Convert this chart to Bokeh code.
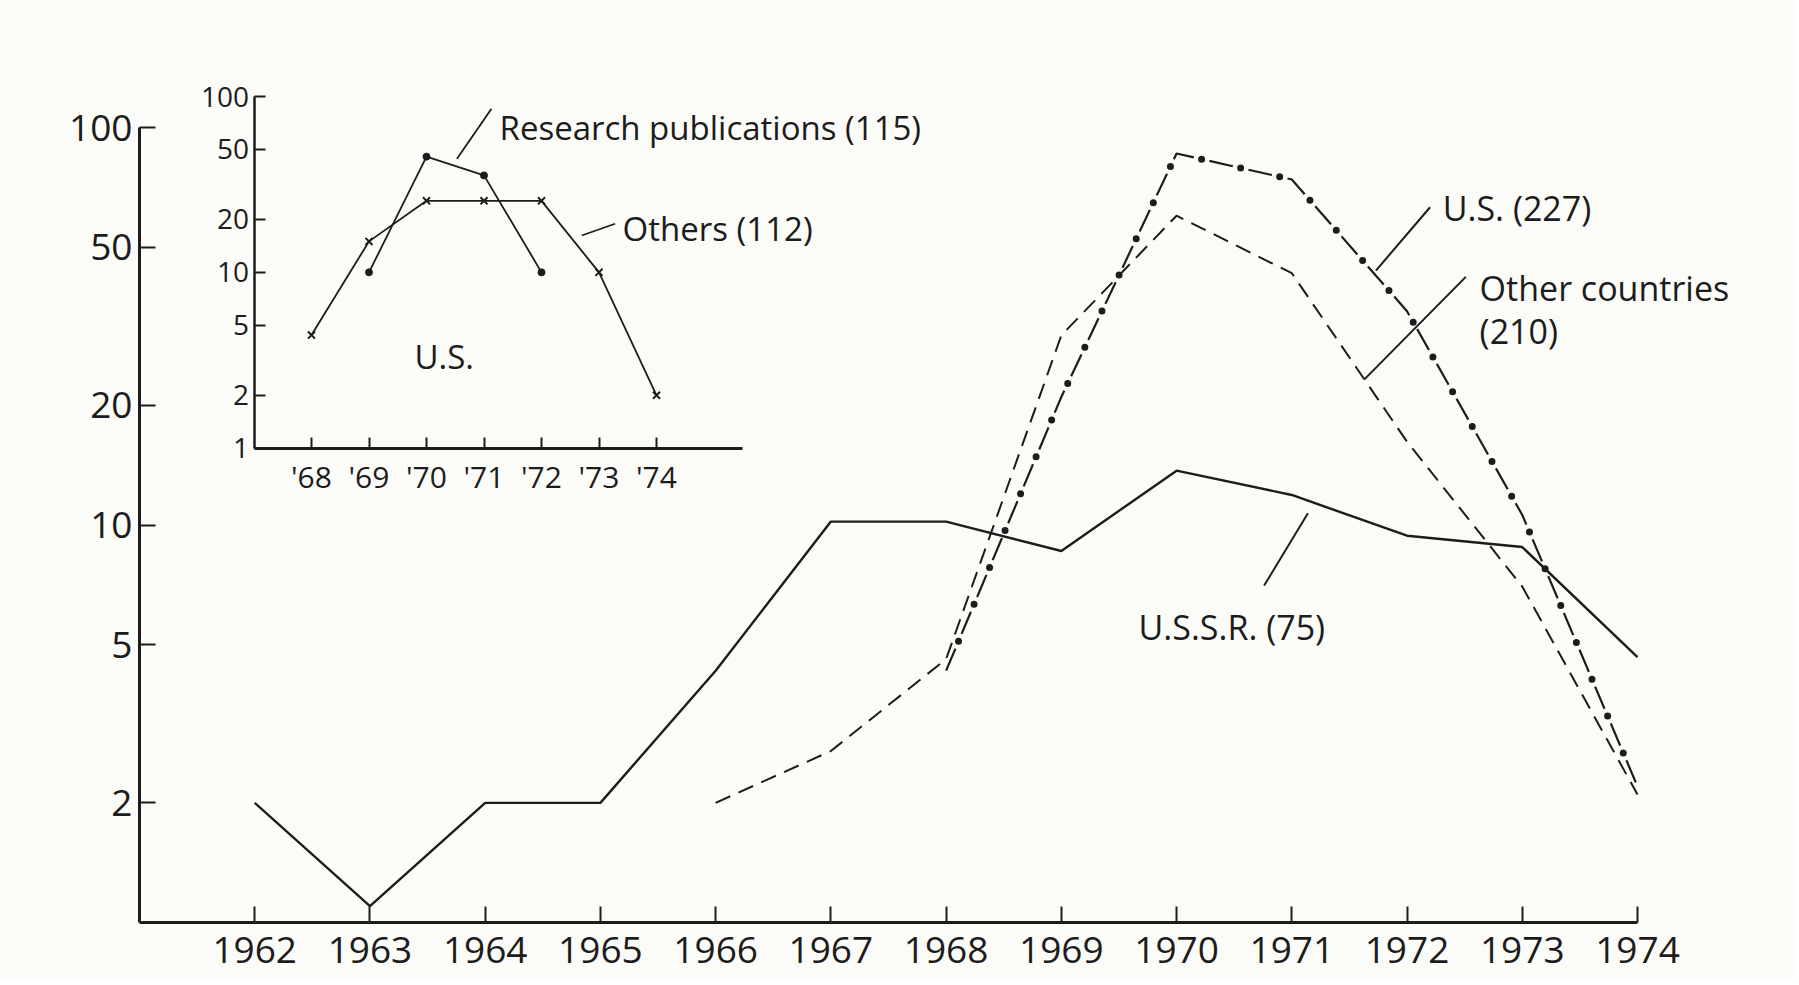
import math
from bokeh.plotting import figure
from bokeh.models import (Range1d, LogScale, LinearScale, LogAxis, LinearAxis,
                          FixedTicker, NumeralTickFormatter, Label)
from bokeh.embed import file_html
from bokeh.resources import INLINE

# ---------------- data ----------------
years = [1962, 1963, 1964, 1965, 1966, 1967, 1968, 1969, 1970, 1971, 1972, 1973, 1974]
ussr = [2.0, 1.1, 2.0, 2.0, 4.3, 10.2, 10.2, 8.6, 13.7, 11.9, 9.4, 8.8, 4.65]

us_years = [1968, 1969, 1970, 1971, 1972, 1973, 1974]
us = [4.3, 21.0, 86.0, 74.0, 34.5, 10.6, 2.2]

other_years = [1966, 1967, 1968, 1969, 1970, 1971, 1972, 1973, 1974]
other = [2.0, 2.7, 4.6, 30.0, 60.0, 43.0, 16.2, 7.0, 2.1]

# inset (U.S. only)
ins_res_years = [1969, 1970, 1971, 1972]
ins_res = [10.0, 45.5, 35.6, 10.0]
ins_oth_years = [1968, 1969, 1970, 1971, 1972, 1973, 1974]
ins_oth = [4.4, 15.0, 25.5, 25.5, 25.5, 10.0, 2.0]

main_yticks = [2, 5, 10, 20, 50, 100]
inset_yticks = [1, 2, 5, 10, 20, 50, 100]
inset_xticks = [1968, 1969, 1970, 1971, 1972, 1973, 1974]
inset_xlabels = ["'68", "'69", "'70", "'71", "'72", "'73", "'74"]

# ---------------- layout constants (page pixels) ----------------
OFF = 0                      # observed page offset of the figure
W, H = 1795, 978
FR_L = 139                   # frame left on page (main y axis)
FR_B = 922                   # frame bottom on page (main x axis)
BORDER_L = FR_L - OFF
BORDER_B = OFF + H - FR_B
FR_R = OFF + W
FR_T = OFF

PX_YEAR = 115.23             # main: pixels per year
DEC = (FR_B - 127) / 2.0     # main: pixels per decade (100 at y=127)
IN_X0, IN_PX_YEAR = 311.0, 57.5      # inset: '68 position, px per year
IN_Y1, IN_DEC = 447.7, 175.85        # inset: value 1 position, px per decade

x_start = 1961
x_end = x_start + (FR_R - FR_L) / PX_YEAR
y_start = 1.0
y_end = 10 ** ((FR_B - FR_T) / DEC)

ix_start = 1968 - (IN_X0 - FR_L) / IN_PX_YEAR
ix_end = 1968 + (FR_R - IN_X0) / IN_PX_YEAR
iy_start = 10 ** (-(FR_B - IN_Y1) / IN_DEC)
iy_end = 10 ** ((IN_Y1 - FR_T) / IN_DEC)

INK = "#1c1c1c"
PAPER = "#fbfbf8"
FONT = "Open Sans"

p = figure(width=W, height=H, output_backend="svg", toolbar_location=None,
           x_range=Range1d(x_start, x_end), y_range=Range1d(y_start, y_end),
           y_axis_type="log",
           extra_x_ranges={"inset": Range1d(ix_start, ix_end)},
           extra_y_ranges={"inset": Range1d(iy_start, iy_end)},
           extra_x_scales={"inset": LinearScale()},
           extra_y_scales={"inset": LogScale()},
           min_border_left=BORDER_L, min_border_bottom=BORDER_B,
           min_border_top=0, min_border_right=0)
p.background_fill_color = PAPER
p.border_fill_color = PAPER
p.outline_line_color = None
p.grid.visible = False


def style_axis(ax, size, standoff, tick_in, lw):
    ax.axis_line_color = INK
    ax.axis_line_width = lw
    ax.major_tick_line_color = INK
    ax.major_tick_line_width = 2
    ax.major_tick_in = tick_in
    ax.major_tick_out = 0
    ax.minor_tick_in = 0
    ax.minor_tick_out = 0
    ax.minor_tick_line_color = None
    ax.major_label_text_font = FONT
    ax.major_label_text_font_size = size
    ax.major_label_text_color = INK
    ax.major_label_standoff = standoff


xa = p.xaxis[0]
xa.ticker = FixedTicker(ticks=years)
xa.bounds = (1961, 1974)
style_axis(xa, "37px", 14, 16, 3)

ya = p.yaxis[0]
ya.ticker = FixedTicker(ticks=main_yticks)
ya.formatter = NumeralTickFormatter(format="0")
ya.bounds = (1, 100)
style_axis(ya, "37px", 7, 16, 3)

# ---------------- inset axes ----------------
iy = LogAxis(x_range_name="inset", y_range_name="inset", fixed_location=1967,
             bounds=(1, 100), ticker=FixedTicker(ticks=inset_yticks),
             formatter=NumeralTickFormatter(format="0"))
style_axis(iy, "28px", 5, 11, 2.5)
p.add_layout(iy, "left")

ix = LinearAxis(x_range_name="inset", y_range_name="inset", fixed_location=1,
                bounds=(1967, 1975.5), ticker=FixedTicker(ticks=inset_xticks),
                major_label_overrides={t: l for t, l in zip(inset_xticks, inset_xlabels)})
style_axis(ix, "30px", 8, 11, 3)
p.add_layout(ix, "below")

# ---------------- main series ----------------
p.line(years, ussr, line_color=INK, line_width=2.4)
p.line(other_years, other, line_color=INK, line_width=2.0, line_dash="16 9")
p.line(us_years, us, line_color=INK, line_width=2.2, line_dash="24 16")
p.line(us_years, us, line_color=INK, line_width=7, line_dash="0 40",
       line_dash_offset=8, line_cap="round")

# ---------------- inset series ----------------
p.line(ins_res_years, ins_res, x_range_name="inset", y_range_name="inset",
       line_color=INK, line_width=1.8)
p.scatter(ins_res_years, ins_res, x_range_name="inset", y_range_name="inset",
          marker="circle", size=7, fill_color=INK, line_color=INK)
p.line(ins_oth_years, ins_oth, x_range_name="inset", y_range_name="inset",
       line_color=INK, line_width=1.8)
p.scatter(ins_oth_years, ins_oth, x_range_name="inset", y_range_name="inset",
          marker="x", size=10, line_color=INK, line_width=2)


# ---------------- labels with leader lines ----------------
def on_line(xs, ys, x):
    for i in range(len(xs) - 1):
        if xs[i] <= x <= xs[i + 1]:
            t = (x - xs[i]) / (xs[i + 1] - xs[i])
            return 10 ** (math.log10(ys[i]) + t * (math.log10(ys[i + 1]) - math.log10(ys[i])))
    return ys[-1]


def label(x, y, text, rng=None, size="34px"):
    kw = {}
    if rng:
        kw = dict(x_range_name=rng, y_range_name=rng)
    p.add_layout(Label(x=x, y=y, text=text, text_font=FONT, text_font_size=size,
                       text_color=INK, text_baseline="alphabetic", text_align="left", **kw))


main_leaders = [
    (1971.73, on_line(us_years, us, 1971.73) * 1.03, 1972.20, 63.0),
    (1971.63, on_line(other_years, other, 1971.63), 1972.51, 42.1),
    (1971.14, on_line(years, ussr, 1971.14) * 0.93, 1970.76, 7.04),
]
p.segment(x0=[l[0] for l in main_leaders], y0=[l[1] for l in main_leaders],
          x1=[l[2] for l in main_leaders], y1=[l[3] for l in main_leaders],
          line_color=INK, line_width=2)
label(1972.31, 62.8, "U.S. (227)")
label(1972.63, 39.4, "Other countries")
label(1972.63, 30.7, "(210)")
label(1969.67, 5.55, "U.S.S.R. (75)")

inset_leaders = [
    (1970.53, 44.2, 1971.13, 85.1),
    (1972.70, 16.2, 1973.28, 18.9),
]
p.segment(x0=[l[0] for l in inset_leaders], y0=[l[1] for l in inset_leaders],
          x1=[l[2] for l in inset_leaders], y1=[l[3] for l in inset_leaders],
          x_range_name="inset", y_range_name="inset", line_color=INK, line_width=1.8)
label(1971.27, 66.9, "Research publications (115)", "inset", "33px")
label(1973.41, 17.7, "Others (112)", "inset", "33px")
label(1969.79, 3.32, "U.S.", "inset", "33px")

open("out.html", "w").write(file_html(p, INLINE))
